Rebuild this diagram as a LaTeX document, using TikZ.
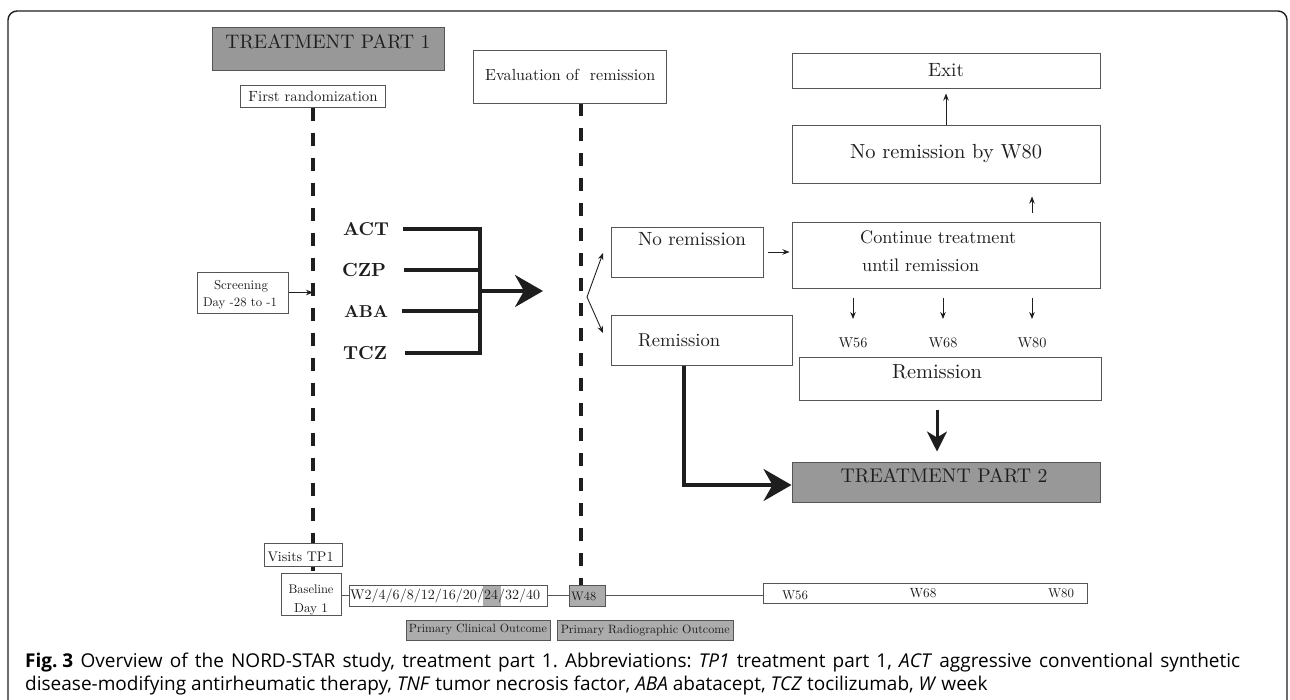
\documentclass[tikz,border=0pt]{standalone}
\usepackage{fontspec}
\usepackage{graphicx}
\newfontfamily\capfont{Open Sans}
\usetikzlibrary{arrows.meta}
\pgfdeclarelayer{back}
\pgfdeclarelayer{bg}
\pgfsetlayers{back,bg,main}
\definecolor{boxc}{RGB}{85,85,85}
\definecolor{gdark}{RGB}{152,152,152}
\definecolor{glight}{RGB}{172,172,172}
\definecolor{txt}{RGB}{30,30,30}
\newcommand\fw[2]{\resizebox{#1pt}{!}{#2}}
\begin{document}
\begin{tikzpicture}[x=1pt,y=-1pt,
  box/.style={draw=boxc, line width=1pt, inner sep=0pt, fill=white, text=txt},
  txtn/.style={inner sep=0pt, text=txt},
  conn/.style={draw=boxc, line width=1pt},
  thinarrow/.style={draw=txt, line width=0.9pt, -{Stealth[length=7pt,width=5.5pt]}},
  thickl/.style={draw=txt, line width=3.5pt},
  bigarrow/.style={draw=txt, line width=3.5pt, -{Stealth[length=28pt,width=32pt,inset=9pt]}},
  downarrow/.style={draw=txt, line width=3pt, -{Stealth[length=20pt,width=20pt,inset=6pt]}},
  dashline/.style={draw=txt, line width=3.3pt, dash pattern=on 13pt off 12pt},
  captxt/.style={anchor=base west, inner sep=0pt, text=black, font=\capfont\fontsize{19}{23}\selectfont\frenchspacing},
]
\useasboundingbox (0,0) rectangle (1290,699);
\begin{pgfonlayer}{back}
\fill[white] (0,0) rectangle (1290,699);
\end{pgfonlayer}
% frame
\draw[draw=txt, line width=1.4pt, rounded corners=9pt] (8,705) -- (8,11) -- (1287,11) -- (1287,705);

% top left
\node[box, fill=gdark, minimum width=232pt, minimum height=43pt] (tp1) at (328,48.5) {};
\node[txtn] (tp1t) at (328,42) {\fw{205}{TREATMENT PART 1}};
\node[box, minimum width=145pt, minimum height=22pt] (fr) at (313,96) {\fw{129}{First randomization}};

% evaluation
\node[box, minimum width=193pt, minimum height=53pt] (eval) at (569.5,76.5) {};
\node[txtn, anchor=west] (evalt) at (485,75) {\fw{170}{Evaluation of \ remission}};

% right column
\node[box, minimum width=308pt, minimum height=35pt] (exit) at (946,70.5) {\fw{36}{Exit}};
\node[box, minimum width=308pt, minimum height=58pt] (nr80) at (946,154) {\fw{192}{No remission by W80}};
\node[box, minimum width=308pt, minimum height=66pt] (cont) at (946,255) {};
\node[txtn, anchor=west] (contt1) at (860,237) {\fw{156}{Continue treatment}};
\node[txtn, anchor=west] (contt2) at (862,265) {\fw{117}{until remission}};

\node[box, minimum width=152pt, minimum height=50pt] (nrem) at (687,252) {};
\node[txtn] (nremt) at (692,239) {\fw{108}{No remission}};
\node[box, minimum width=181pt, minimum height=50pt] (rem) at (701.5,340) {};
\node[txtn, anchor=west] (remt) at (638,340) {\fw{82}{Remission}};

\node[txtn] (w56l) at (853,343) {\fw{29}{W56}};
\node[txtn] (w68l) at (943,343) {\fw{29}{W68}};
\node[txtn] (w80l) at (1032,343) {\fw{29}{W80}};

\node[box, minimum width=302pt, minimum height=43pt] (rem2) at (950,378.5) {};
\node[txtn] (rem2t) at (937,372) {\fw{90}{Remission}};

\node[box, fill=gdark, minimum width=308pt, minimum height=40pt] (tp2) at (946,482) {};
\node[txtn] (tp2t) at (944,476) {\fw{207}{TREATMENT PART 2}};

% screening
\node[box, minimum width=91pt, minimum height=41pt] (scr) at (242.5,292.5) {};
\node[txtn] (scrt1) at (241,286) {\fw{54}{Screening}};
\node[txtn] (scrt2) at (240,303) {\fw{74}{Day -28 to -1}};

% drugs
\node[txtn] (act) at (366,229) {\fw{46}{\bfseries ACT}};
\node[txtn] (czp) at (364,270) {\fw{44}{\bfseries CZP}};
\node[txtn] (aba) at (366,311) {\fw{44}{\bfseries ABA}};
\node[txtn] (tcz) at (365,353) {\fw{44}{\bfseries TCZ}};

% timeline
\node[box, minimum width=78pt, minimum height=23pt] (vis) at (303,554.5) {};
\node[txtn] (vist) at (300.5,557) {\fw{66}{Visits TP1}};
\node[box, minimum width=60pt, minimum height=42pt] (base) at (311,594) {};
\node[txtn] (baset1) at (311,589) {\fw{45}{Baseline}};
\node[txtn] (baset2) at (311,609) {\fw{34}{Day 1}};
\node[box, minimum width=198pt, minimum height=21pt] (w2) at (448,595.5) {};
\fill[glight] (483,585.5) rectangle (501,605.5);
\node[txtn, anchor=west] (w2t) at (350,596) {\fw{190}{W2/4/6/8/12/16/20/24/32/40}};
\node[box, fill=glight, minimum width=36pt, minimum height=21pt] (w48) at (587,595.5) {};
\node[txtn, anchor=west] (w48t) at (571,596) {\fw{25}{W48}};
\node[box, minimum width=324pt, minimum height=20pt] (w56) at (925,593) {};
\node[txtn] (w56t) at (795,595) {\fw{26}{W56}};
\node[txtn] (w68t) at (923,593) {\fw{27}{W68}};
\node[txtn] (w80t) at (1061,593) {\fw{26}{W80}};
\node[box, fill=glight, minimum width=144pt, minimum height=20pt] (pco) at (478,630) {\fw{138}{Primary Clinical Outcome}};
\node[box, fill=glight, minimum width=175.5pt, minimum height=20pt] (pro) at (645.25,630) {\fw{169}{Primary Radiographic Outcome}};

% dashed lines behind
\coordinate (d2) at (581,103);
\begin{pgfonlayer}{bg}
\draw[dashline] (fr.south) -- (fr.south |- base.north);
\draw[dashline] (d2) -- (d2 |- w48.north);
\end{pgfonlayer}

% timeline connectors
\draw[conn] (base.east |- w2.west) -- (w2.west);
\draw[conn] (w2.east) -- (w48.west);
\draw[conn] (w48.east) -- (w48.east -| w56.west);

% screening arrow
\draw[thinarrow] (scr.east) -- (scr.east -| fr.south);

% drug bracket
\coordinate (jx) at (480,291);
\coordinate (ah) at (543,291);
\draw[thickl] ([xshift=14pt]act.east) -- (act.east -| jx) -- (tcz.east -| jx) -- ([xshift=18pt]tcz.east);
\draw[thickl] ([xshift=18pt]czp.east) -- (czp.east -| jx);
\draw[thickl] ([xshift=14pt]aba.east) -- (aba.east -| jx);
\draw[bigarrow] (jx) -- (ah);

% fork
\coordinate (fork) at (587,297);
\coordinate (f1) at (603,253);
\coordinate (f2) at (603,333);
\draw[thinarrow] (fork) -- (f1);
\draw[thinarrow] (fork) -- (f2);

\draw[thinarrow, shorten <=4pt, shorten >=2pt] (nrem.east) -- (nrem.east -| cont.west);
\draw[thinarrow, shorten <=9pt, shorten >=13pt] (cont.north -| w80l) -- (nr80.south -| w80l);
\draw[thinarrow, shorten >=5pt] (nr80.north) -- (exit.south);
\draw[thinarrow, shorten <=9pt] (cont.south -| w56l) -- ([yshift=24pt]w56l.center);
\draw[thinarrow, shorten <=9pt] (cont.south -| w68l) -- ([yshift=24pt]w68l.center);
\draw[thinarrow, shorten <=9pt] (cont.south -| w80l) -- ([yshift=24pt]w80l.center);
\draw[downarrow, shorten <=9pt, shorten >=10pt] (rem2.south -| rem2t) -- (tp2.north -| rem2t);

% L arrow
\coordinate (lx) at (684,485);
\draw[bigarrow, line join=miter] (lx |- rem.south) -- (lx) -- (lx -| tp2.west);

% caption
\node[captxt] (cap1) at (25,667)
  {\makebox[1215pt][s]{\mbox{\textbf{Fig. 3}} Overview of the NORD-STAR study, treatment part 1. Abbreviations: \textit{TP1} treatment part 1, \textit{ACT} aggressive conventional synthetic}};
\node[captxt] (cap2) at (25,690)
  {disease-modifying antirheumatic therapy, \textit{TNF} tumor necrosis factor, \textit{ABA} abatacept, \textit{TCZ} tocilizumab, \textit{W} week};
\end{tikzpicture}
\end{document}
